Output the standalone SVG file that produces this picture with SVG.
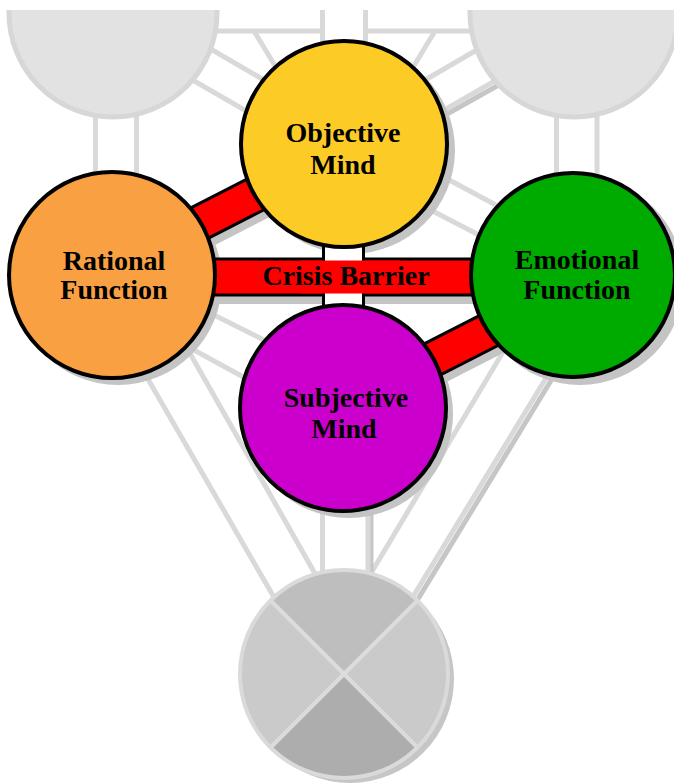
<svg xmlns="http://www.w3.org/2000/svg" width="674" height="783" viewBox="0 0 674 783">
<defs>
<clipPath id="clip"><rect x="0" y="10" width="674" height="773"/></clipPath>
<style>
.ln{stroke:#d9d9d9;stroke-width:5;fill:none}
.lnd{stroke:#c6c6c6;stroke-width:5;fill:none}
.gc{fill:#e2e2e2;stroke:#d7d7d7;stroke-width:5}
.sh{fill:#c4c4c4}
.node{stroke:#000;stroke-width:4}
.lbl{font-family:"Liberation Serif","Times New Roman",serif;font-weight:bold;font-size:28px;fill:#000;text-anchor:middle}
</style>
</defs>
<rect width="674" height="783" fill="#fff"/>
<g clip-path="url(#clip)">
<g id="connectors">
<line class="ln" x1="322.5" y1="0" x2="322.5" y2="70"/>
<line class="ln" x1="365.5" y1="0" x2="365.5" y2="70"/>
<line class="ln" x1="200" y1="31" x2="322" y2="31"/>
<line class="ln" x1="366" y1="31" x2="490" y2="31"/>
<line class="ln" x1="254" y1="31" x2="300" y2="107"/>
<line class="ln" x1="435" y1="31" x2="389" y2="107"/>
<line class="ln" x1="190" y1="37" x2="300" y2="101"/>
<line class="ln" x1="170" y1="67" x2="300" y2="142"/>
<line class="ln" x1="499" y1="37" x2="389" y2="101"/>
<line class="lnd" x1="522" y1="72" x2="392" y2="145"/>
<line class="ln" x1="519" y1="67" x2="389" y2="142"/>
<line class="ln" x1="95.5" y1="100" x2="95.5" y2="190"/>
<line class="ln" x1="136.5" y1="100" x2="136.5" y2="190"/>
<line class="ln" x1="556.5" y1="100" x2="556.5" y2="190"/>
<line class="ln" x1="597" y1="100" x2="597" y2="190"/>
<line class="ln" x1="440" y1="175" x2="520" y2="218"/>
<line class="ln" x1="425" y1="207" x2="500" y2="246"/>
<line class="ln" x1="180" y1="298" x2="300" y2="358"/>
<line class="ln" x1="170" y1="337" x2="300" y2="408"/>
<line class="ln" x1="130" y1="348" x2="290" y2="625"/>
<line class="ln" x1="175" y1="327" x2="330" y2="600"/>
<line class="ln" x1="515" y1="332" x2="355" y2="600"/>
<line class="lnd" x1="569" y1="351" x2="404" y2="622"/>
<line class="ln" x1="565" y1="347" x2="400" y2="618"/>
<line class="ln" x1="322.5" y1="480" x2="322.5" y2="600"/>
<line class="lnd" x1="371" y1="480" x2="371" y2="600"/>
<line class="ln" x1="368" y1="480" x2="368" y2="600"/>
</g>
<g id="top-left">
<circle class="gc" cx="113" cy="13" r="104"/>
</g>
<g id="top-right">
<circle class="gc" cx="574" cy="13" r="104"/>
</g>
<g id="bottom">
<circle cx="350" cy="679" r="104" fill="#c6c6c6"/>
<path d="M344 674 L270.5 600.5 A104 104 0 0 1 417.5 600.5 Z" fill="#bebebe"/>
<path d="M344 674 L417.5 600.5 A104 104 0 0 1 417.5 747.5 Z" fill="#cacaca"/>
<path d="M344 674 L417.5 747.5 A104 104 0 0 1 270.5 747.5 Z" fill="#adadad"/>
<path d="M344 674 L270.5 747.5 A104 104 0 0 1 270.5 600.5 Z" fill="#cacaca"/>
<line x1="270.5" y1="600.5" x2="417.5" y2="747.5" stroke="#dcdcdc" stroke-width="4"/>
<line x1="417.5" y1="600.5" x2="270.5" y2="747.5" stroke="#dcdcdc" stroke-width="4"/>
<circle cx="344" cy="674" r="104" fill="none" stroke="#dadada" stroke-width="4"/>
</g>
<g id="shadows">
<line x1="117" y1="274" x2="349" y2="155" stroke="#c4c4c4" stroke-width="38"/>
<line x1="348" y1="411" x2="579" y2="293" stroke="#c4c4c4" stroke-width="38"/>
<rect x="180" y="264" width="340" height="40" fill="#c4c4c4"/>
<circle class="sh" cx="351" cy="150" r="104"/>
<circle class="sh" cx="118" cy="281" r="104"/>
<circle class="sh" cx="580" cy="281" r="104"/>
<circle class="sh" cx="349" cy="414" r="104"/>
</g>
<g id="bars">
<line x1="112" y1="268" x2="344" y2="149" stroke="#000" stroke-width="38"/>
<line x1="112" y1="268" x2="344" y2="149" stroke="#f00" stroke-width="32"/>
<line x1="343" y1="405" x2="574" y2="287" stroke="#000" stroke-width="38"/>
<line x1="343" y1="405" x2="574" y2="287" stroke="#f00" stroke-width="32"/>
<rect x="150" y="259" width="390" height="36" fill="#f00" stroke="#000" stroke-width="3"/>
<rect x="323" y="235" width="42" height="80" fill="#fff"/>
<line x1="323.5" y1="235" x2="323.5" y2="315" stroke="#000" stroke-width="3"/>
<line x1="363.5" y1="235" x2="363.5" y2="315" stroke="#000" stroke-width="3"/>
<rect x="300" y="260.5" width="100" height="33" fill="#f00"/>
</g>
<g id="objective-mind">
<circle class="node" cx="344" cy="144" r="103" fill="#fccb25"/>
<text class="lbl" x="343" y="142">Objective</text>
<text class="lbl" x="343" y="174">Mind</text>
</g>
<g id="rational-function">
<circle class="node" cx="112" cy="275" r="103" fill="#f9a043"/>
<text class="lbl" x="114" y="270">Rational</text>
<text class="lbl" x="114" y="299">Function</text>
</g>
<g id="emotional-function">
<circle class="node" cx="573" cy="275" r="102" fill="#00ab00"/>
<text class="lbl" x="577" y="269">Emotional</text>
<text class="lbl" x="577" y="299">Function</text>
</g>
<g id="subjective-mind">
<circle class="node" cx="343" cy="408" r="103" fill="#cc00cc"/>
<text class="lbl" x="346" y="407">Subjective</text>
<text class="lbl" x="344" y="438">Mind</text>
</g>
<g id="crisis-barrier">
<text class="lbl" x="346" y="285">Crisis Barrier</text>
</g>
</g>
</svg>
